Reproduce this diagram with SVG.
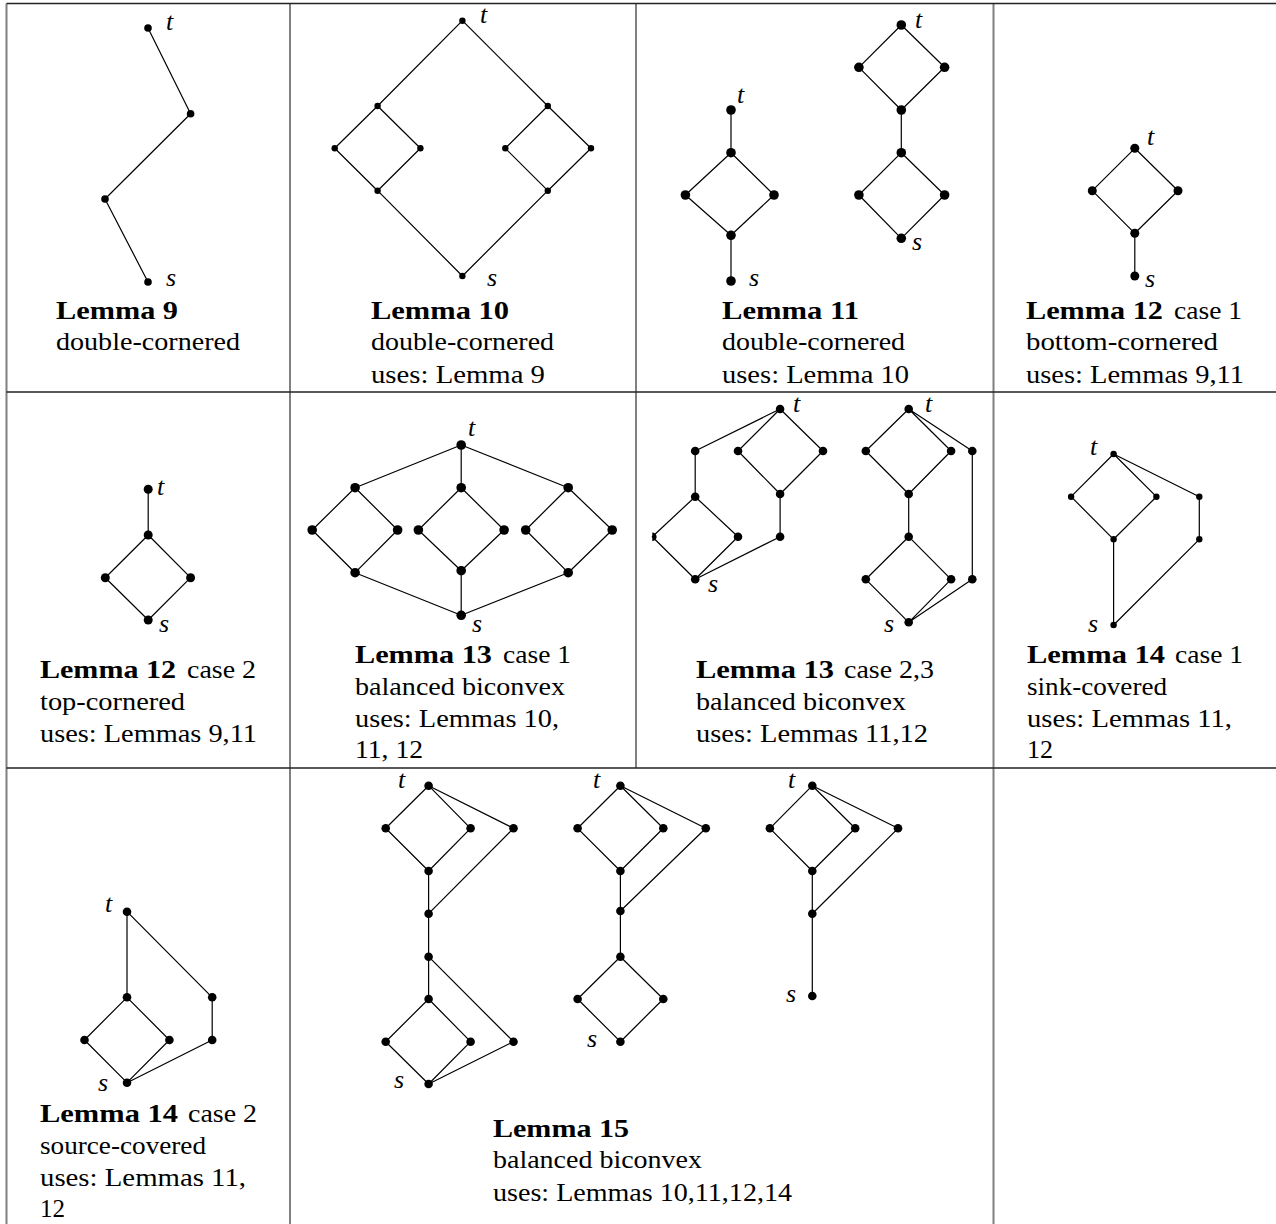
<svg xmlns="http://www.w3.org/2000/svg" width="1276" height="1224" viewBox="0 0 1276 1224">
<style>
.e{stroke:#000;stroke-width:1.2;fill:none;stroke-linejoin:round}
.gv{stroke:#808080;stroke-width:2}
.gh{stroke:#222;stroke-width:1.4}
.tx{font-family:"Liberation Serif","Times New Roman",serif;font-size:26px;fill:#000}
.b{font-weight:bold}
.lb{font-family:"Liberation Serif","Times New Roman",serif;font-size:26px;font-style:italic;fill:#000}
</style>
<defs>
<clipPath id="clipHalf"><rect x="652.3" y="520" width="20" height="40"/></clipPath>
</defs>
<rect width="1276" height="1224" fill="#fff"/>
<g id="grid">
<line class="gv" x1="6.5" y1="3.5" x2="6.5" y2="1224"/>
<line class="gv" x1="290" y1="3.5" x2="290" y2="1224"/>
<line class="gv" x1="636" y1="3.5" x2="636" y2="768"/>
<line class="gv" x1="993.5" y1="3.5" x2="993.5" y2="1224"/>
<line class="gh" x1="6.5" y1="3.5" x2="1276" y2="3.5"/>
<line class="gh" x1="6.5" y1="392" x2="1276" y2="392"/>
<line class="gh" x1="6.5" y1="768" x2="1276" y2="768"/>
</g>
<g id="connectors">
<path class="e" d="M148,28 L190.6,113.7 L105,199 L148,282"/>
<path class="e" d="M377.6,106 L462.4,20.7 L547.8,106 M377.6,190.7 L462.4,276 L547.8,190.7 M377.6,106 L334.7,148.3 L377.6,190.7 L420.4,148.3 Z M547.8,106 L505.3,148.3 L547.8,190.7 L591,148.3 Z"/>
<path class="e" d="M731,110 V152.7 M731,152.7 L685.4,195 L731,235.3 L774,195 Z M731,235.3 V281 M901.3,25 L858.9,67.3 L901.3,110 L944.6,67.3 Z M901.3,110 V152.7 M901.3,152.7 L858.9,195 L901.3,238.3 L944.6,195 Z"/>
<path class="e" d="M1134.8,148.3 L1092.3,190.7 L1134.8,233.3 L1178,190.7 Z M1134.8,233.3 V276"/>
<path class="e" d="M148.2,489.3 V535 M148.2,535 L105.3,577.7 L148.2,620 L190.6,577.7 Z"/>
<path class="e" d="M355.1,487.7 L461.2,445 L568.2,487.7 M461.2,445 V487.7 M355.1,487.7 L312.2,530 L355.1,572.7 L397.6,530 Z M461.2,487.7 L418.4,530 L461.2,570.7 L504.1,530 Z M568.2,487.7 L525.7,530 L568.2,572.7 L612.2,530 Z M355.1,572.7 L461.2,615.3 L568.2,572.7 M461.2,570.7 V615.3"/>
<path class="e" d="M695.2,451 L780.1,409 L823,451 L780.1,494 L738,451 L780.1,409 M780.1,494 V536.7 L695.2,579.3 M695.2,451 V496.7 L652.3,536.7 L695.2,579.3 L738,536.7 L695.2,496.7"/>
<path class="e" d="M908.7,409 L865.8,451 L908.7,494 L951.1,451 Z M908.7,409 L972.3,451 V579.3 L908.7,622.3 M908.7,494 V536.7 M908.7,536.7 L865.8,579.3 L908.7,622.3 L951.1,579.3 Z"/>
<path class="e" d="M1113.6,454 L1071.1,496.7 L1113.6,539.3 L1156.4,496.7 Z M1113.6,454 L1199.3,496.7 V539.3 L1113.6,625 M1113.6,539.3 V625"/>
<path class="e" d="M127,911.7 V997.3 M127,911.7 L212.2,997.3 V1040 L127,1082.7 M127,997.3 L84.5,1040 L127,1082.7 L169.4,1040 Z"/>
<path class="e" d="M428.6,785.7 L385.7,828.3 L428.6,871 L470.6,828.3 Z M428.6,785.7 L513.5,828.3 L428.6,913.7 M428.6,871 V999 M428.6,956.7 L513.5,1041.7 L428.6,1084 M428.6,999 L385.7,1041.7 L428.6,1084 L470.6,1041.7 Z"/>
<path class="e" d="M620.4,785.7 L577.6,828.3 L620.4,871 L663.3,828.3 Z M620.4,785.7 L705.8,828.3 L620.4,911 M620.4,871 V956.7 M620.4,956.7 L577.6,999 L620.4,1041.7 L663.3,999 Z"/>
<path class="e" d="M812.3,785.7 L769.9,828.3 L812.3,871 L855.2,828.3 Z M812.3,785.7 L898,828.3 L812.3,913.7 M812.3,871 V996"/>
</g>
<g id="lemma9">
<g fill="#000"><circle cx="148" cy="28" r="3.8"/><circle cx="190.6" cy="113.7" r="3.8"/><circle cx="105" cy="199" r="3.8"/><circle cx="148" cy="282" r="3.8"/></g>
<text class="lb" x="166" y="30">t</text><text class="lb" x="166" y="286">s</text>
<text class="tx b" x="56" y="319" textLength="122" lengthAdjust="spacingAndGlyphs">Lemma 9</text>
<text class="tx" x="56" y="350" textLength="184" lengthAdjust="spacingAndGlyphs">double-cornered</text>
</g>
<g id="lemma10">
<g fill="#000"><circle cx="462.4" cy="20.7" r="3.2"/><circle cx="377.6" cy="106" r="3.2"/><circle cx="547.8" cy="106" r="3.2"/><circle cx="334.7" cy="148.3" r="3.2"/><circle cx="420.4" cy="148.3" r="3.2"/><circle cx="505.3" cy="148.3" r="3.2"/><circle cx="591" cy="148.3" r="3.2"/><circle cx="377.6" cy="190.7" r="3.2"/><circle cx="547.8" cy="190.7" r="3.2"/><circle cx="462.4" cy="276" r="3.2"/></g>
<text class="lb" x="480" y="23">t</text><text class="lb" x="487" y="286">s</text>
<text class="tx b" x="371" y="319" textLength="138" lengthAdjust="spacingAndGlyphs">Lemma 10</text>
<text class="tx" x="371" y="350" textLength="183" lengthAdjust="spacingAndGlyphs">double-cornered</text>
<text class="tx" x="371" y="383" textLength="174" lengthAdjust="spacingAndGlyphs">uses: Lemma 9</text>
</g>
<g id="lemma11">
<g fill="#000"><circle cx="731" cy="110" r="4.8"/><circle cx="731" cy="152.7" r="4.8"/><circle cx="685.4" cy="195" r="4.8"/><circle cx="774" cy="195" r="4.8"/><circle cx="731" cy="235.3" r="4.8"/><circle cx="731" cy="281" r="4.8"/>
<circle cx="901.3" cy="25" r="4.8"/><circle cx="858.9" cy="67.3" r="4.8"/><circle cx="944.6" cy="67.3" r="4.8"/><circle cx="901.3" cy="110" r="4.8"/><circle cx="901.3" cy="152.7" r="4.8"/><circle cx="858.9" cy="195" r="4.8"/><circle cx="944.6" cy="195" r="4.8"/><circle cx="901.3" cy="238.3" r="4.8"/></g>
<text class="lb" x="737" y="103">t</text><text class="lb" x="749" y="286">s</text>
<text class="lb" x="915" y="28">t</text><text class="lb" x="912" y="250">s</text>
<text class="tx b" x="722" y="319" textLength="137" lengthAdjust="spacingAndGlyphs">Lemma 11</text>
<text class="tx" x="722" y="350" textLength="183" lengthAdjust="spacingAndGlyphs">double-cornered</text>
<text class="tx" x="722" y="383" textLength="187" lengthAdjust="spacingAndGlyphs">uses: Lemma 10</text>
</g>
<g id="lemma12c1">
<g fill="#000"><circle cx="1134.8" cy="148.3" r="4.5"/><circle cx="1092.3" cy="190.7" r="4.5"/><circle cx="1178" cy="190.7" r="4.5"/><circle cx="1134.8" cy="233.3" r="4.5"/><circle cx="1134.8" cy="276" r="4.5"/></g>
<text class="lb" x="1147" y="145">t</text><text class="lb" x="1145" y="287">s</text>
<text class="tx b" x="1026" y="319" textLength="137" lengthAdjust="spacingAndGlyphs">Lemma 12</text>
<text class="tx" x="1174" y="319" textLength="68" lengthAdjust="spacingAndGlyphs">case 1</text>
<text class="tx" x="1026" y="350" textLength="192" lengthAdjust="spacingAndGlyphs">bottom-cornered</text>
<text class="tx" x="1026" y="383" textLength="218" lengthAdjust="spacingAndGlyphs">uses: Lemmas 9,11</text>
</g>
<g id="lemma12c2">
<g fill="#000"><circle cx="148.2" cy="489.3" r="4.5"/><circle cx="148.2" cy="535" r="4.5"/><circle cx="105.3" cy="577.7" r="4.5"/><circle cx="190.6" cy="577.7" r="4.5"/><circle cx="148.2" cy="620" r="4.5"/></g>
<text class="lb" x="157" y="495">t</text><text class="lb" x="159" y="632">s</text>
<text class="tx b" x="40" y="678" textLength="136" lengthAdjust="spacingAndGlyphs">Lemma 12</text>
<text class="tx" x="187" y="678" textLength="69" lengthAdjust="spacingAndGlyphs">case 2</text>
<text class="tx" x="40" y="710" textLength="145" lengthAdjust="spacingAndGlyphs">top-cornered</text>
<text class="tx" x="40" y="742" textLength="217" lengthAdjust="spacingAndGlyphs">uses: Lemmas 9,11</text>
</g>
<g id="lemma13c1">
<g fill="#000"><circle cx="461.2" cy="445" r="4.8"/><circle cx="355.1" cy="487.7" r="4.8"/><circle cx="312.2" cy="530" r="4.8"/><circle cx="397.6" cy="530" r="4.8"/><circle cx="355.1" cy="572.7" r="4.8"/><circle cx="461.2" cy="487.7" r="4.8"/><circle cx="418.4" cy="530" r="4.8"/><circle cx="504.1" cy="530" r="4.8"/><circle cx="461.2" cy="570.7" r="4.8"/><circle cx="568.2" cy="487.7" r="4.8"/><circle cx="525.7" cy="530" r="4.8"/><circle cx="612.2" cy="530" r="4.8"/><circle cx="568.2" cy="572.7" r="4.8"/><circle cx="461.2" cy="615.3" r="4.8"/></g>
<text class="lb" x="468" y="436">t</text><text class="lb" x="472" y="632">s</text>
<text class="tx b" x="355" y="663" textLength="137" lengthAdjust="spacingAndGlyphs">Lemma 13</text>
<text class="tx" x="503" y="663" textLength="68" lengthAdjust="spacingAndGlyphs">case 1</text>
<text class="tx" x="355" y="695" textLength="210" lengthAdjust="spacingAndGlyphs">balanced biconvex</text>
<text class="tx" x="355" y="727" textLength="204" lengthAdjust="spacingAndGlyphs">uses: Lemmas 10,</text>
<text class="tx" x="355" y="758" textLength="68" lengthAdjust="spacingAndGlyphs">11, 12</text>
</g>
<g id="lemma13c23">
<g fill="#000"><circle cx="780.1" cy="409" r="4.3"/><circle cx="695.2" cy="451" r="4.3"/><circle cx="738" cy="451" r="4.3"/><circle cx="823" cy="451" r="4.3"/><circle cx="780.1" cy="494" r="4.3"/><circle cx="695.2" cy="496.7" r="4.3"/><circle cx="652.3" cy="536.7" r="4.3" clip-path="url(#clipHalf)"/><circle cx="738" cy="536.7" r="4.3"/><circle cx="780.1" cy="536.7" r="4.3"/><circle cx="695.2" cy="579.3" r="4.3"/>
<circle cx="908.7" cy="409" r="4.3"/><circle cx="865.8" cy="451" r="4.3"/><circle cx="951.1" cy="451" r="4.3"/><circle cx="972.3" cy="451" r="4.3"/><circle cx="908.7" cy="494" r="4.3"/><circle cx="908.7" cy="536.7" r="4.3"/><circle cx="865.8" cy="579.3" r="4.3"/><circle cx="951.1" cy="579.3" r="4.3"/><circle cx="972.3" cy="579.3" r="4.3"/><circle cx="908.7" cy="622.3" r="4.3"/></g>
<text class="lb" x="793" y="412">t</text><text class="lb" x="708" y="592">s</text>
<text class="lb" x="925" y="412">t</text><text class="lb" x="884" y="632">s</text>
<text class="tx b" x="696" y="678" textLength="138" lengthAdjust="spacingAndGlyphs">Lemma 13</text>
<text class="tx" x="844" y="678" textLength="90" lengthAdjust="spacingAndGlyphs">case 2,3</text>
<text class="tx" x="696" y="710" textLength="210" lengthAdjust="spacingAndGlyphs">balanced biconvex</text>
<text class="tx" x="696" y="742" textLength="232" lengthAdjust="spacingAndGlyphs">uses: Lemmas 11,12</text>
</g>
<g id="lemma14c1">
<g fill="#000"><circle cx="1113.6" cy="454" r="3.2"/><circle cx="1071.1" cy="496.7" r="3.2"/><circle cx="1156.4" cy="496.7" r="3.2"/><circle cx="1199.3" cy="496.7" r="3.2"/><circle cx="1113.6" cy="539.3" r="3.2"/><circle cx="1199.3" cy="539.3" r="3.2"/><circle cx="1113.6" cy="625" r="3.2"/></g>
<text class="lb" x="1090" y="455">t</text><text class="lb" x="1088" y="632">s</text>
<text class="tx b" x="1027" y="663" textLength="138" lengthAdjust="spacingAndGlyphs">Lemma 14</text>
<text class="tx" x="1175" y="663" textLength="68" lengthAdjust="spacingAndGlyphs">case 1</text>
<text class="tx" x="1027" y="695" textLength="140" lengthAdjust="spacingAndGlyphs">sink-covered</text>
<text class="tx" x="1027" y="727" textLength="205" lengthAdjust="spacingAndGlyphs">uses: Lemmas 11,</text>
<text class="tx" x="1027" y="758" textLength="26" lengthAdjust="spacingAndGlyphs">12</text>
</g>
<g id="lemma14c2">
<g fill="#000"><circle cx="127" cy="911.7" r="4.3"/><circle cx="127" cy="997.3" r="4.3"/><circle cx="84.5" cy="1040" r="4.3"/><circle cx="169.4" cy="1040" r="4.3"/><circle cx="212.2" cy="997.3" r="4.3"/><circle cx="212.2" cy="1040" r="4.3"/><circle cx="127" cy="1082.7" r="4.3"/></g>
<text class="lb" x="105" y="912">t</text><text class="lb" x="98" y="1091">s</text>
<text class="tx b" x="40" y="1122" textLength="138" lengthAdjust="spacingAndGlyphs">Lemma 14</text>
<text class="tx" x="188" y="1122" textLength="69" lengthAdjust="spacingAndGlyphs">case 2</text>
<text class="tx" x="40" y="1154" textLength="166" lengthAdjust="spacingAndGlyphs">source-covered</text>
<text class="tx" x="40" y="1186" textLength="206" lengthAdjust="spacingAndGlyphs">uses: Lemmas 11,</text>
<text class="tx" x="40" y="1217" textLength="25" lengthAdjust="spacingAndGlyphs">12</text>
</g>
<g id="lemma15">
<g fill="#000"><circle cx="428.6" cy="785.7" r="4.3"/><circle cx="385.7" cy="828.3" r="4.3"/><circle cx="470.6" cy="828.3" r="4.3"/><circle cx="513.5" cy="828.3" r="4.3"/><circle cx="428.6" cy="871" r="4.3"/><circle cx="428.6" cy="913.7" r="4.3"/><circle cx="428.6" cy="956.7" r="4.3"/><circle cx="428.6" cy="999" r="4.3"/><circle cx="385.7" cy="1041.7" r="4.3"/><circle cx="470.6" cy="1041.7" r="4.3"/><circle cx="513.5" cy="1041.7" r="4.3"/><circle cx="428.6" cy="1084" r="4.3"/>
<circle cx="620.4" cy="785.7" r="4.3"/><circle cx="577.6" cy="828.3" r="4.3"/><circle cx="663.3" cy="828.3" r="4.3"/><circle cx="705.8" cy="828.3" r="4.3"/><circle cx="620.4" cy="871" r="4.3"/><circle cx="620.4" cy="911" r="4.3"/><circle cx="620.4" cy="956.7" r="4.3"/><circle cx="577.6" cy="999" r="4.3"/><circle cx="663.3" cy="999" r="4.3"/><circle cx="620.4" cy="1041.7" r="4.3"/>
<circle cx="812.3" cy="785.7" r="4.3"/><circle cx="769.9" cy="828.3" r="4.3"/><circle cx="855.2" cy="828.3" r="4.3"/><circle cx="898" cy="828.3" r="4.3"/><circle cx="812.3" cy="871" r="4.3"/><circle cx="812.3" cy="913.7" r="4.3"/><circle cx="812.3" cy="996" r="4.3"/></g>
<text class="lb" x="398" y="788">t</text><text class="lb" x="394" y="1088">s</text>
<text class="lb" x="593" y="788">t</text><text class="lb" x="587" y="1047">s</text>
<text class="lb" x="788" y="788">t</text><text class="lb" x="786" y="1002">s</text>
<text class="tx b" x="493" y="1137" textLength="136" lengthAdjust="spacingAndGlyphs">Lemma 15</text>
<text class="tx" x="493" y="1168" textLength="209" lengthAdjust="spacingAndGlyphs">balanced biconvex</text>
<text class="tx" x="493" y="1201" textLength="299" lengthAdjust="spacingAndGlyphs">uses: Lemmas 10,11,12,14</text>
</g>
</svg>
